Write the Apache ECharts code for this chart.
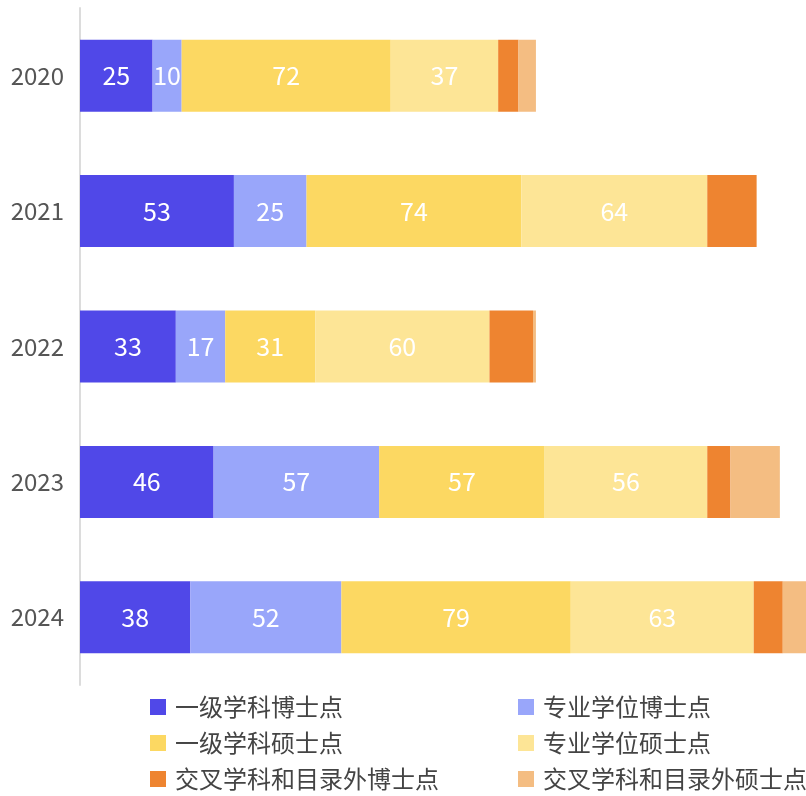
<!DOCTYPE html>
<html><head><meta charset="utf-8">
<script src="https://cdn.jsdelivr.net/npm/echarts@6/dist/echarts.min.js"></script>
<style>html,body{margin:0;padding:0;background:#fff}#c{width:806px;height:796px}</style>
</head><body><div id="c"></div>
<script>
const years = ['2020','2021','2022','2023','2024'];
const seriesNames = ['一级学科博士点','专业学位博士点','一级学科硕士点','专业学位硕士点','交叉学科和目录外博士点','交叉学科和目录外硕士点'];
const firstDoctor = [25,53,33,46,38];
const profDoctor = [10,25,17,57,52];
const firstMaster = [72,74,31,57,79];
const profMaster = [37,64,60,56,63];
const crossDoctor = [7,17,15,8,10];
const crossMaster = [6,0,1,17,8];
const colors = ['#5048E8','#99A6FA','#FCD862','#FDE596','#EE8430','#F4BD82'];
const allData = [firstDoctor,profDoctor,firstMaster,profMaster,crossDoctor,crossMaster];
const font = '"Noto Sans CJK SC","Noto Sans",sans-serif';
const chart = echarts.init(document.getElementById('c'));
const legendText = {fontSize:24,lineHeight:24,color:'#444',fontFamily:font,padding:[0,0,0,4]};
chart.setOption({
  animation:false,
  grid:{left:80,right:0,top:8,bottom:111,containLabel:false},
  xAxis:{type:'value',min:0,max:250,show:false,splitLine:{show:false}},
  yAxis:{type:'category',data:years,inverse:true,
    axisLine:{show:true,lineStyle:{color:'#dcdcdc',width:2}},
    axisTick:{show:false},
    axisLabel:{fontSize:24,color:'#555',margin:16,fontFamily:font}},
  legend:[
    {data:[seriesNames[0],seriesNames[2],seriesNames[4]],orient:'vertical',left:150,top:695,height:120,padding:0,itemWidth:16,itemHeight:16,itemGap:12,icon:'rect',textStyle:legendText},
    {data:[seriesNames[1],seriesNames[3],seriesNames[5]],orient:'vertical',left:518,top:695,height:120,padding:0,itemWidth:16,itemHeight:16,itemGap:12,icon:'rect',textStyle:legendText}
  ],
  series: allData.map((d,i)=>({
    name:seriesNames[i],type:'bar',stack:'total',data:d,barWidth:72,
    itemStyle:{color:colors[i]},
    label:{show:i<4,position:'inside',color:'#fff',fontSize:25,fontFamily:font}
  }))
});
</script></body></html>
